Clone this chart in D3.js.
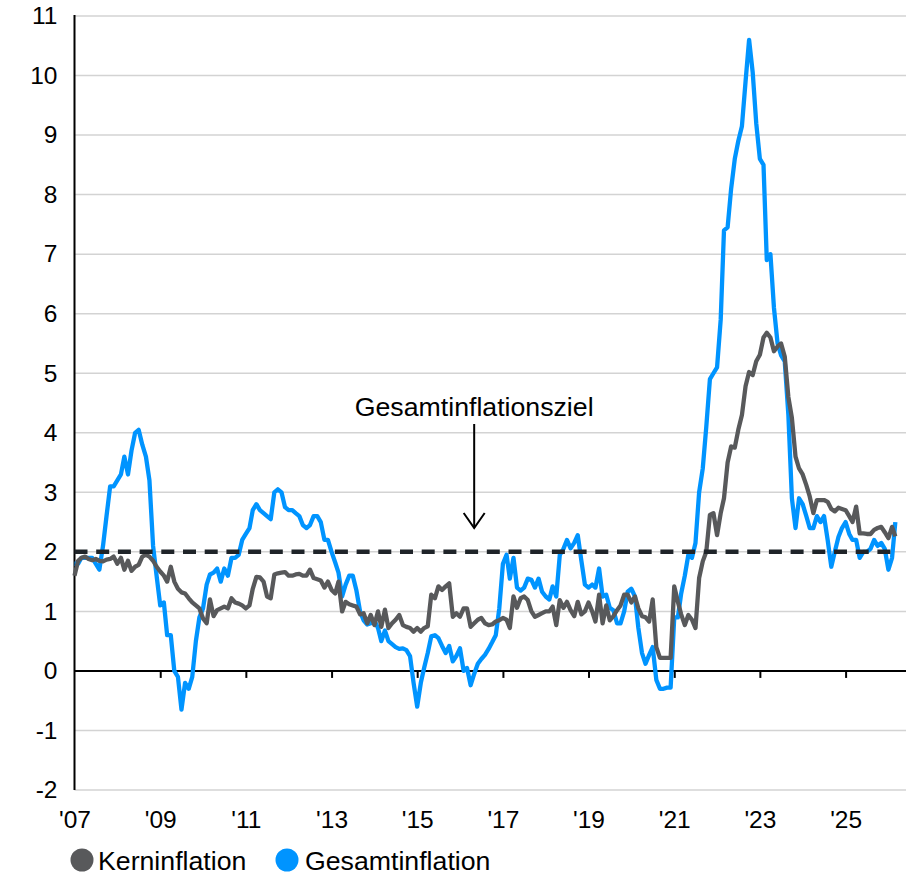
<!DOCTYPE html>
<html>
<head>
<meta charset="utf-8">
<script src="https://cdn.jsdelivr.net/npm/d3@7"></script>
<style>
  body { margin: 0; background: #fff; }
  text { font-family: "Liberation Sans", Arial, sans-serif; fill: #000; }
</style>
</head>
<body>
<svg id="chart" width="916" height="875"></svg>
<script>
// Monthly year-on-year rates, January 2007 to March 2026
const startYear = 2007;
const startMonth = 0;

const gesamtinflation = [
  1.8, 1.8, 1.9, 1.9, 1.9, 1.9, 1.8, 1.7, 2.1, 2.6, 3.1, 3.1,
  3.2, 3.3, 3.6, 3.3, 3.7, 4.0, 4.05, 3.8, 3.6, 3.2, 2.1, 1.6,
  1.1, 1.15, 0.6, 0.6, 0.0, -0.1, -0.65, -0.2, -0.3, -0.1, 0.5, 0.9,
  1.05, 1.45, 1.62, 1.65, 1.72, 1.5, 1.72, 1.6, 1.9, 1.9, 1.95, 2.2,
  2.3, 2.4, 2.7, 2.8, 2.7, 2.65, 2.6, 2.55, 3.0, 3.05, 3.0, 2.75,
  2.7, 2.7, 2.65, 2.6, 2.45, 2.4, 2.45, 2.6, 2.6, 2.5, 2.2, 2.2,
  2.0, 1.82, 1.65, 1.25, 1.45, 1.6, 1.6, 1.35, 1.0, 0.85, 0.78, 0.8,
  0.85, 0.72, 0.5, 0.68, 0.5, 0.45, 0.4, 0.37, 0.38, 0.35, 0.25, -0.2,
  -0.6, -0.2, 0.05, 0.3, 0.58, 0.6, 0.55, 0.42, 0.3, 0.42, 0.16, 0.25,
  0.38, 0.0, 0.05, -0.24, -0.05, 0.12, 0.2, 0.27, 0.37, 0.48, 0.6, 1.05,
  1.8, 1.95, 1.55, 1.9, 1.4, 1.35, 1.4, 1.55, 1.53, 1.4, 1.55, 1.33,
  1.25, 1.2, 1.42, 1.25, 1.95, 2.05, 2.2, 2.06, 2.15, 2.28, 1.85, 1.45,
  1.4, 1.45, 1.4, 1.72, 1.25, 1.28, 1.06, 1.02, 0.8, 0.8, 1.0, 1.33,
  1.38, 1.25, 0.72, 0.3, 0.12, 0.27, 0.4, -0.15, -0.3, -0.3, -0.28, -0.28,
  0.9, 0.9, 1.3, 1.6, 1.95, 1.9, 2.15, 3.0, 3.4, 4.1, 4.9, 5.0,
  5.1, 5.9, 7.4, 7.45, 8.1, 8.6, 8.9, 9.15, 9.9, 10.6, 10.05, 9.2,
  8.6, 8.5, 6.9, 7.0, 6.1, 5.5, 5.3, 5.2, 4.3, 2.9, 2.4, 2.9,
  2.8, 2.6, 2.4, 2.4, 2.6, 2.5, 2.6, 2.2, 1.75, 2.0, 2.25, 2.4,
  2.5, 2.3, 2.2, 2.2, 1.9, 2.0, 2.0, 2.05, 2.2, 2.1, 2.15, 2.05,
  1.7, 1.9, 2.5
];

const kerninflation = [
  1.6, 1.85, 1.9, 1.92, 1.88, 1.86, 1.88, 1.85, 1.84, 1.87, 1.88, 1.92,
  1.8, 1.9, 1.7, 1.85, 1.68, 1.75, 1.78, 1.92, 1.95, 1.92, 1.85, 1.75,
  1.67, 1.6, 1.5, 1.75, 1.5, 1.38, 1.32, 1.3, 1.22, 1.15, 1.1, 1.05,
  0.88, 0.8, 1.2, 0.92, 1.02, 1.05, 1.08, 1.05, 1.22, 1.15, 1.13, 1.1,
  1.05, 1.1, 1.38, 1.58, 1.57, 1.5, 1.25, 1.22, 1.62, 1.64, 1.65, 1.66,
  1.6, 1.6, 1.62, 1.63, 1.6, 1.6, 1.7, 1.56, 1.54, 1.52, 1.4, 1.5,
  1.36, 1.3, 1.5, 1.0, 1.16, 1.12, 1.1, 1.08, 0.95, 0.97, 0.8, 0.94,
  0.77, 1.0, 0.74, 1.03, 0.72, 0.8, 0.86, 0.94, 0.77, 0.74, 0.72, 0.66,
  0.72, 0.66, 0.72, 0.75, 1.28, 1.22, 1.42, 1.36, 1.42, 1.47, 0.91, 0.97,
  0.91, 1.05, 1.05, 0.74, 0.8, 0.86, 0.89, 0.8, 0.77, 0.78, 0.83, 0.85,
  0.89, 0.86, 0.72, 1.25, 1.06, 1.22, 1.25, 1.19, 1.0, 0.91, 0.94, 0.97,
  1.0, 1.0, 1.08, 0.77, 1.19, 1.06, 1.16, 1.02, 0.92, 1.16, 0.95, 1.0,
  1.15, 1.0, 0.83, 1.28, 0.8, 1.1, 0.85, 0.92, 1.02, 1.1, 1.28, 1.28,
  1.15, 1.25, 1.05, 0.92, 0.9, 0.83, 1.2, 0.4, 0.22, 0.22, 0.22, 0.22,
  1.42, 1.16, 0.95, 0.77, 0.94, 0.86, 0.72, 1.56, 1.84, 2.0, 2.62, 2.65,
  2.28, 2.65, 2.9, 3.5, 3.77, 3.75, 4.05, 4.3, 4.78, 5.02, 4.97, 5.2,
  5.31, 5.6, 5.68, 5.6, 5.37, 5.45, 5.5, 5.28, 4.6, 4.25, 3.6, 3.4,
  3.3, 3.12, 2.93, 2.65, 2.87, 2.87, 2.87, 2.84, 2.72, 2.68, 2.74, 2.72,
  2.7, 2.6, 2.5, 2.76, 2.31, 2.31, 2.3, 2.3, 2.37, 2.4, 2.42, 2.33,
  2.23, 2.42, 2.26
];

const zielwert = 2;
const zielLabel = "Gesamtinflationsziel";
const yTickValues = [-2, -1, 0, 1, 2, 3, 4, 5, 6, 7, 8, 9, 10, 11];
const xTickYears = [2007, 2009, 2011, 2013, 2015, 2017, 2019, 2021, 2023, 2025];
const seriesNames = ["Kerninflation", "Gesamtinflation"];
const seriesColors = ["#58595b", "#0094ff"];

// ---- layout ----
const svg = d3.select("#chart");
const plot = { left: 74.5, right: 906, top: 16, bottom: 790 };
const fontFamily = '"Liberation Sans", Arial, sans-serif';

const months = gesamtinflation.map((_, i) => new Date(startYear, startMonth + i, 1));

const x = d3.scaleTime()
  .domain([new Date(2007, 0, 1), new Date(2026, 4, 31)])
  .range([plot.left, plot.right]);

const y = d3.scaleLinear()
  .domain([-2, 11])
  .range([plot.bottom, plot.top]);

// horizontal gridlines
svg.append("g")
  .selectAll("line")
  .data(yTickValues.filter(v => v !== 0))
  .join("line")
  .attr("x1", plot.left).attr("x2", plot.right)
  .attr("y1", d => y(d)).attr("y2", d => y(d))
  .attr("stroke", "#d3d3d3")
  .attr("stroke-width", 1.5);

// y tick labels (plain hyphen for negatives)
const yAxis = d3.axisLeft(y).tickValues(yTickValues).tickSize(0).tickPadding(17)
  .tickFormat(d => String(d));
const gy = svg.append("g").attr("transform", `translate(${plot.left},0)`).call(yAxis);
gy.select(".domain").remove();
gy.selectAll("text")
  .attr("font-size", 24.5)
  .attr("font-family", fontFamily)
  .attr("fill", "#000");

// vertical axis line
svg.append("line")
  .attr("x1", plot.left).attr("x2", plot.left)
  .attr("y1", plot.top - 1).attr("y2", plot.bottom)
  .attr("stroke", "#000").attr("stroke-width", 2);

// zero line with year ticks
const xAxis = d3.axisBottom(x)
  .tickValues(xTickYears.map(yr => new Date(yr, 0, 1)))
  .tickSize(7)
  .tickFormat(d => "'" + d3.timeFormat("%y")(d));
const gx = svg.append("g").attr("transform", `translate(0,${y(0)})`).call(xAxis);
gx.select(".domain")
  .attr("d", `M${plot.left},0H${plot.right}`)
  .attr("stroke", "#000").attr("stroke-width", 2);
gx.selectAll(".tick line").attr("stroke", "#000").attr("stroke-width", 2);
gx.selectAll(".tick")
  .filter(d => d.getFullYear() === 2007)
  .select("line").remove();
gx.selectAll("text")
  .attr("font-size", 24.5)
  .attr("font-family", fontFamily)
  .attr("fill", "#000")
  .attr("y", plot.bottom - y(0) + 38)
  .attr("dy", 0);

// series lines
const line = d3.line()
  .x((d, i) => x(months[i]))
  .y(d => y(d))
  .curve(d3.curveLinear);

svg.append("path")
  .datum(gesamtinflation)
  .attr("d", line)
  .attr("fill", "none")
  .attr("stroke", seriesColors[1])
  .attr("stroke-width", 4.3)
  .attr("stroke-linejoin", "round");

svg.append("path")
  .datum(kerninflation)
  .attr("d", line)
  .attr("fill", "none")
  .attr("stroke", seriesColors[0])
  .attr("stroke-width", 4.3)
  .attr("stroke-linejoin", "round");

// target line
svg.append("line")
  .attr("x1", x(months[0])).attr("x2", x(months[months.length - 1]))
  .attr("y1", y(zielwert)).attr("y2", y(zielwert))
  .attr("stroke", "#1f2429")
  .attr("stroke-width", 4.5)
  .attr("stroke-dasharray", "13 8.7");

// annotation with arrow
const annX = x(new Date(2016, 4, 1));
svg.append("text")
  .attr("x", annX).attr("y", 416)
  .attr("text-anchor", "middle")
  .attr("font-size", 26.7)
  .text(zielLabel);
svg.append("line")
  .attr("x1", annX).attr("x2", annX)
  .attr("y1", 424).attr("y2", 528)
  .attr("stroke", "#000").attr("stroke-width", 2);
svg.append("path")
  .attr("d", `M${annX - 10.5},${513} L${annX},${528} L${annX + 10.5},${513}`)
  .attr("fill", "none").attr("stroke", "#000").attr("stroke-width", 2);

// legend
const legendItems = [
  { name: seriesNames[0], color: seriesColors[0], cx: 82, tx: 98 },
  { name: seriesNames[1], color: seriesColors[1], cx: 287, tx: 305 }
];
const lg = svg.append("g");
lg.selectAll("circle")
  .data(legendItems)
  .join("circle")
  .attr("cx", d => d.cx).attr("cy", 860).attr("r", 11.5)
  .attr("fill", d => d.color);
lg.selectAll("text")
  .data(legendItems)
  .join("text")
  .attr("x", d => d.tx).attr("y", 870)
  .attr("font-size", 26.7)
  .text(d => d.name);
</script>
</body>
</html>
